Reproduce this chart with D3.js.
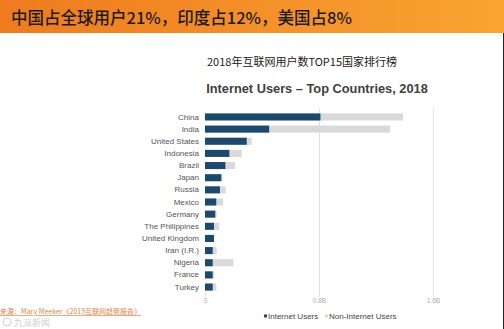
<!DOCTYPE html>
<html><head><meta charset="utf-8">
<script src="https://cdn.jsdelivr.net/npm/d3@7"></script>
<style>body{margin:0;background:#fff;}svg{display:block;}</style>
</head><body>
<script>
const countries = ["China","India","United States","Indonesia","Brazil","Japan","Russia","Mexico","Germany","The Philippines","United Kingdom","Iran (I.R.)","Nigeria","France","Turkey"];
const internetUsers = [0.81,0.45,0.293,0.171,0.143,0.114,0.105,0.079,0.072,0.063,0.063,0.054,0.054,0.054,0.054];
const totalPopulation = [1.39,1.30,0.328,0.257,0.211,0.123,0.145,0.126,0.082,0.10,0.066,0.082,0.20,0.065,0.08];
const tickValues = [0,0.8,1.6];
const tickLabels = ["0","0.8B","1.6B"];
const headline = "中国占全球用户21%，印度占12%，美国占8%";
const subtitle = "2018年互联网用户数TOP15国家排行榜";
const title = "Internet Users – Top Countries, 2018";
const legendLabels = ["Internet Users","Non-Internet Users"];
const source = "来源：Mary Meeker《2019互联网趋势报告》";

const W=504,H=329;
const svg=d3.select("body").append("svg").attr("width",W).attr("height",H);
const defs=svg.append("defs");
const g=defs.append("linearGradient").attr("id","bg");
g.append("stop").attr("offset","0").attr("stop-color","#ef7b1e");
g.append("stop").attr("offset","1").attr("stop-color","#f9a431");
svg.append("rect").attr("x",0).attr("y",0).attr("width",W).attr("height",33).attr("fill","url(#bg)");
svg.append("text").attr("x",11).attr("y",24).attr("font-family","'Noto Sans CJK SC'").attr("font-weight","500").attr("font-size",16.5).attr("fill","#1a1a1a").text(headline);
svg.append("line").attr("x1",503.5).attr("x2",503.5).attr("y1",33).attr("y2",H).attr("stroke","#222").attr("stroke-width",1);

svg.append("text").attr("x",302).attr("y",66).attr("text-anchor","middle").attr("font-family","'Noto Sans CJK SC'").attr("font-size",11).attr("fill","#222").text(subtitle);
svg.append("text").attr("x",317).attr("y",93).attr("text-anchor","middle").attr("font-family","'Liberation Sans',Arial").attr("font-weight","bold").attr("font-size",12.8).attr("fill","#404040").text(title);

const x=d3.scaleLinear().domain([0,1.6]).range([205,433]);
const y=d3.scaleBand().domain(countries).range([111,293]).paddingInner(0.42).paddingOuter(0.2);

// gridlines
svg.append("g").selectAll("line").data(tickValues.slice(1)).join("line")
 .attr("x1",d=>Math.round(x(d))+0.5).attr("x2",d=>Math.round(x(d))+0.5).attr("y1",108).attr("y2",297)
 .attr("stroke","#e3e3e3").attr("stroke-width",1);
svg.append("line").attr("x1",x(0)+0.5).attr("x2",x(0)+0.5).attr("y1",293).attr("y2",297).attr("stroke","#e3e3e3");

const rows=svg.append("g");
rows.selectAll("rect.tot").data(countries).join("rect").attr("class","tot")
 .attr("x",x(0)).attr("y",d=>y(d)).attr("height",y.bandwidth())
 .attr("width",(d,i)=>x(totalPopulation[i])-x(0)).attr("fill","#d9d9d9");
rows.selectAll("rect.int").data(countries).join("rect").attr("class","int")
 .attr("x",x(0)).attr("y",d=>y(d)).attr("height",y.bandwidth())
 .attr("width",(d,i)=>x(internetUsers[i])-x(0)).attr("fill","#1c4a6e");

const yAxis=d3.axisLeft(y).tickSize(0).tickPadding(6);
const ya=svg.append("g").attr("transform","translate(205,0)").call(yAxis);
ya.select(".domain").remove();
ya.selectAll("text").attr("font-family","'Liberation Sans',Arial").attr("font-size",8).attr("fill","#555");

const xAxis=d3.axisBottom(x).tickValues(tickValues).tickFormat((d,i)=>tickLabels[i]).tickSize(0).tickPadding(0);
const xa=svg.append("g").attr("transform","translate(0,298)").call(xAxis);
xa.select(".domain").remove();
xa.selectAll("text").attr("font-family","'Liberation Sans',Arial").attr("font-size",6.5).attr("fill","#aaa").attr("dy","0.8em");

// legend
const leg=svg.append("g").attr("font-family","'Liberation Sans',Arial").attr("font-size",8).attr("fill","#444");
const legColors=["#1c4a6e","#d9d9d9"];
const legX=[264,325];
legendLabels.forEach((t,i)=>{
  leg.append("rect").attr("x",legX[i]).attr("y",314.5).attr("width",3).attr("height",3).attr("fill",legColors[i]);
  leg.append("text").attr("x",legX[i]+4).attr("y",319).text(t);
});

svg.append("text").attr("x",0).attr("y",314).attr("font-family","'Noto Sans CJK SC'").attr("font-size",7).attr("fill","#e8834a").attr("text-decoration","underline").text(source);
svg.append("text").attr("x",14).attr("y",326).attr("font-family","'Noto Sans CJK SC'").attr("font-size",9).attr("fill","#d0d0d0").text("九派新闻");
svg.append("circle").attr("cx",7).attr("cy",322).attr("r",4).attr("fill","none").attr("stroke","#d0d0d0");
</script>
</body></html>
